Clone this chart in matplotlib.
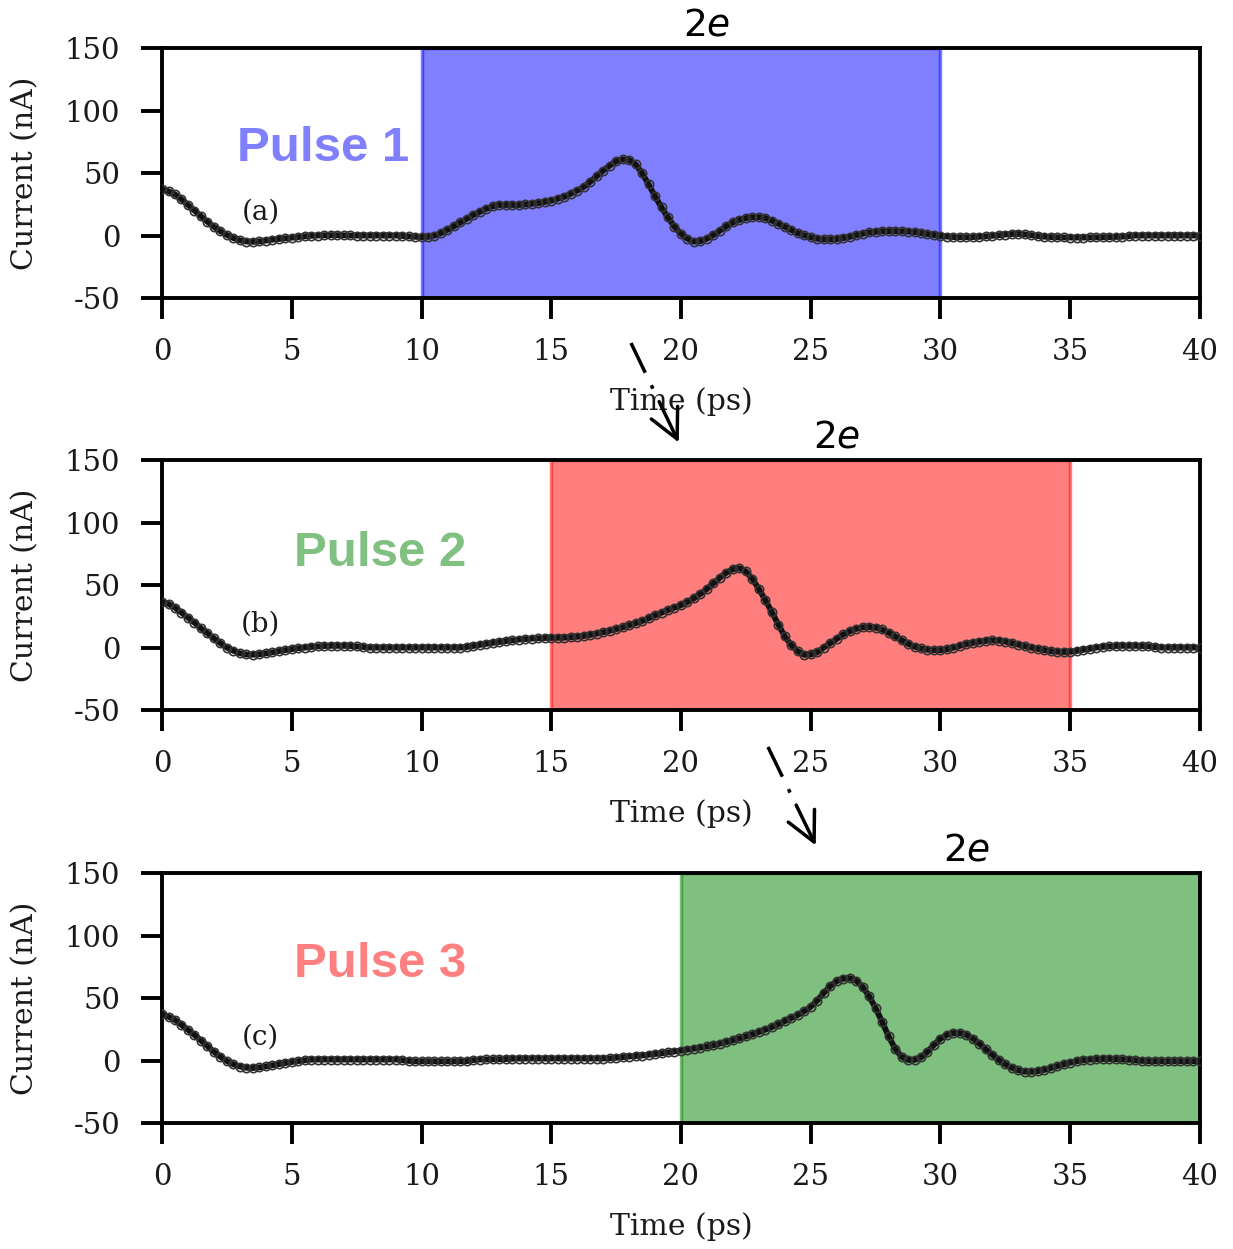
import numpy as np
import matplotlib
matplotlib.use("Agg")
import matplotlib.pyplot as plt
from matplotlib.lines import Line2D
from matplotlib.patches import FancyArrowPatch

# ---- data -------------------------------------------------------------
time_ps = np.linspace(0, 40, 161)          # 0.25 ps sampling

current_a = [
    37, 35.5, 33, 29, 24.5, 20, 15.5, 11,
    7, 3.5, 0.5, -2, -3.8, -4.8, -5, -4.7,
    -4, -3.3, -2.7, -2.2, -1.7, -1.2, -0.6, -0.2,
    0, 0.2, 0.3, 0.3, 0.2, 0.1, 0, 0,
    0, 0, 0, 0, 0, -0.3, -0.6, -1,
    -1.2, -1, 0, 2, 4.5, 7.5, 10.5, 13.5,
    16.5, 19, 21.5, 23.5, 24.5, 24.5, 24.5, 24.5,
    25, 25.5, 26, 27, 28, 29.5, 31, 33.5,
    36, 39, 43, 47.5, 52, 56, 59.5, 61,
    60.5, 57, 50, 41, 31.5, 22.5, 14.5, 7,
    1.5, -2.5, -4.8, -4.5, -2.5, 0.5, 4, 7.5,
    10.5, 12.5, 14, 14.7, 14.7, 14, 12, 9.5,
    7, 4.5, 2, 0.2, -1.3, -2.5, -3, -3,
    -2.8, -2, -1, 0.3, 1.5, 2.5, 3, 3.5,
    3.5, 3.5, 3.5, 3.2, 2.8, 2, 1.2, 0.5,
    -0.3, -0.8, -1.2, -1.3, -1.3, -1.2, -1, -0.6,
    -0.2, 0.3, 0.8, 1.2, 1.3, 1, 0.3, -0.4,
    -0.9, -1.2, -1.4, -1.5, -1.6, -1.6, -1.6, -1.5,
    -1.4, -1.3, -1.2, -1.1, -0.9, -0.5, 0, 0,
    0, 0, 0, 0, 0, 0, 0, 0,
    0,
]

current_b = [
    36.5, 35, 32, 28, 24, 20, 15.5, 11.5,
    7.5, 3.5, 0, -2.5, -4.5, -5.5, -5.7, -5.3,
    -4.6, -3.8, -2.8, -2, -1.2, -0.5, 0, 0.5,
    1, 1.3, 1.4, 1.4, 1.4, 1.3, 1, 0.5,
    0, 0, 0, 0, 0, 0, 0, 0,
    0, 0, 0, 0, 0, 0, 0, 0.5,
    1.3, 2.2, 3, 3.8, 4.5, 5.2, 5.8, 6.4,
    6.8, 7.2, 7.5, 7.7, 7.8, 7.9, 8, 8.3,
    8.7, 9.3, 10.2, 11.2, 12.3, 13.5, 14.8, 16.2,
    17.8, 19.5, 21.3, 23.5, 25.8, 28, 30, 32,
    34, 36.5, 39.5, 43, 47, 51.5, 56, 60,
    62.8, 63.5, 61, 55, 47, 38, 28.5, 18.5,
    9, 2, -3, -5.8, -5.5, -3.8, 0, 3.5,
    7, 10.5, 13, 15, 16.3, 16.5, 16, 14.5,
    12, 9, 6, 3, 0.8, -0.7, -1.7, -2,
    -2, -1.3, 0, 1.5, 2.8, 3.8, 4.7, 5.4,
    5.8, 5.6, 4.8, 3.6, 2.4, 1.2, 0, -1,
    -2, -2.8, -3.3, -3.5, -3.3, -2.7, -1.8, -1,
    0, 0.6, 1, 1.3, 1.4, 1.4, 1.4, 1.3,
    1.1, 0.5, 0, 0, 0, 0, 0, 0,
    0,
]

current_c = [
    37, 35, 32.5, 28.5, 24.5, 20.5, 16, 11.5,
    7, 3, -0.5, -3, -4.8, -5.8, -6, -5.5,
    -4.7, -3.8, -2.9, -2, -1.2, -0.5, 0.2, 0.7,
    0.8, 0.8, 0.8, 0.8, 0.8, 0.8, 0.8, 0.8,
    0.8, 0.8, 0.8, 0.8, 0.8, 0.3, -0.3, -0.6,
    -0.6, -0.6, -0.6, -0.6, -0.6, -0.6, -0.5, -0.5,
    0.3, 0.8, 0.9, 1, 1.1, 1.2, 1.4, 1.6,
    1.6, 1.6, 1.6, 1.6, 1.6, 1.6, 1.6, 1.6,
    1.6, 1.6, 1.6, 1.6, 1.6, 1.8, 2.2, 2.7,
    3.2, 3.6, 4, 4.6, 5.2, 5.8, 6.5, 7.2,
    8, 8.8, 9.6, 10.4, 11.3, 12.3, 13.5, 14.8,
    16.2, 17.7, 19.3, 21, 22.8, 24.7, 26.8, 29,
    31.5, 34, 36.5, 39.5, 43, 48, 54, 59.5,
    63.5, 65.5, 66, 64, 59, 51.5, 42, 31,
    19.5, 9.5, 3, 0.5, 0.5, 2.5, 7, 12.5,
    17.5, 20.5, 22, 22, 20.5, 17.5, 13.5, 9,
    4.5, 0.5, -3, -5.8, -7.8, -8.8, -9, -8.5,
    -7.5, -6, -4.5, -3, -1.6, -0.5, 0.3, 0.8,
    1.1, 1.3, 1.3, 1.2, 1, 0.7, 0.2, -0.2,
    -0.5, -0.5, -0.5, -0.5, -0.5, -0.5, -0.5, -0.5,
    -0.5,
]

currents = [current_a, current_b, current_c]
window_start = [10, 15, 20]
window_end = [30, 35, 40]
window_colors = ["blue", "red", "green"]
title_x = [21, 26, 31]
pulse_labels = ["Pulse 1", "Pulse 2", "Pulse 3"]
pulse_colors = ["#8080ff", "#80c080", "#ff8080"]
pulse_pos = [(6.2, 70), (8.4, 75), (8.4, 77)]
panel_tags = ["(a)", "(b)", "(c)"]
x_ticks = [0, 5, 10, 15, 20, 25, 30, 35, 40]
y_ticks = [-50, 0, 50, 100, 150]

# ---- style ------------------------------------------------------------
plt.rcParams["font.family"] = ["DejaVu Serif"]
plt.rcParams["axes.unicode_minus"] = False
plt.rcParams["mathtext.fontset"] = "dejavusans"

W, H = 1233, 1249
fig = plt.figure(figsize=(W / 100, H / 100), dpi=100)

ax_bottoms = [0.7614, 0.4315, 0.1009]
ax_left, ax_width, ax_height = 0.1314, 0.8418, 0.2

for i in range(3):
    ax = fig.add_axes([ax_left, ax_bottoms[i], ax_width, ax_height])
    c = window_colors[i]
    ax.axvspan(window_start[i], window_end[i], facecolor=c, edgecolor=c,
               alpha=0.5, lw=2.5, zorder=1)
    ax.plot(time_ps, currents[i], "-", color="#111111", lw=4.2,
            solid_capstyle="round", zorder=3)
    ax.plot(time_ps, currents[i], "o", ms=6, mfc="none", mec="#333333",
            mew=1.2, zorder=4)

    ax.set_xlim(0, 40)
    ax.set_ylim(-50, 150)
    ax.set_xticks(x_ticks)
    ax.set_yticks(y_ticks)
    for sp in ax.spines.values():
        sp.set_linewidth(2.8)
    ax.tick_params(axis="both", direction="out", length=15, width=2.8,
                   labelsize=21, colors="black", labelcolor="#1a1a1a")
    ax.tick_params(axis="x", pad=14)
    ax.tick_params(axis="y", pad=15)

    ax.set_xlabel("Time (ps)", fontsize=21.5, color="#1a1a1a")
    ax.xaxis.label.set_va("center")
    ax.xaxis.set_label_coords(0.5, -0.416)
    ax.set_ylabel("Current (nA)", fontsize=21.5, color="#1a1a1a")
    ax.yaxis.label.set_va("center")
    ax.yaxis.set_label_coords(-0.132, 0.5)

    ax.text(3.8, 19, panel_tags[i], fontsize=20, ha="center", va="center",
            color="#1a1a1a")
    ax.text(pulse_pos[i][0], pulse_pos[i][1], pulse_labels[i],
            color=pulse_colors[i], fontsize=35.5, fontweight="bold",
            family=["Liberation Sans"], ha="center", va="center")
    ax.text(title_x[i], 1.052, "2$e$", transform=ax.get_xaxis_transform(),
            fontsize=27, family=["DejaVu Sans"], ha="center", va="baseline")


# dash-dot arrows linking consecutive panels (figure pixel positions)
def fig_frac(px, py):
    return px / W, 1 - py / H


def linking_arrow(start_px, tip_px):
    sx, sy = fig_frac(*start_px)
    tx, ty = fig_frac(*tip_px)
    mx, my = sx + 0.55 * (tx - sx), sy + 0.55 * (ty - sy)
    fig.add_artist(Line2D([sx, mx], [sy, my], transform=fig.transFigure,
                          color="black", lw=2.5, solid_capstyle="butt",
                          linestyle=(0, (9.5, 4, 1.1, 4))))
    fig.add_artist(FancyArrowPatch(
        (mx, my), (tx, ty), transform=fig.transFigure,
        arrowstyle="->,head_length=0.7,head_width=0.35",
        mutation_scale=30, lw=2.5, color="black"))


linking_arrow((631, 343), (680, 445))
linking_arrow((768, 747), (817, 848))

fig.savefig("out.png", dpi=100)
